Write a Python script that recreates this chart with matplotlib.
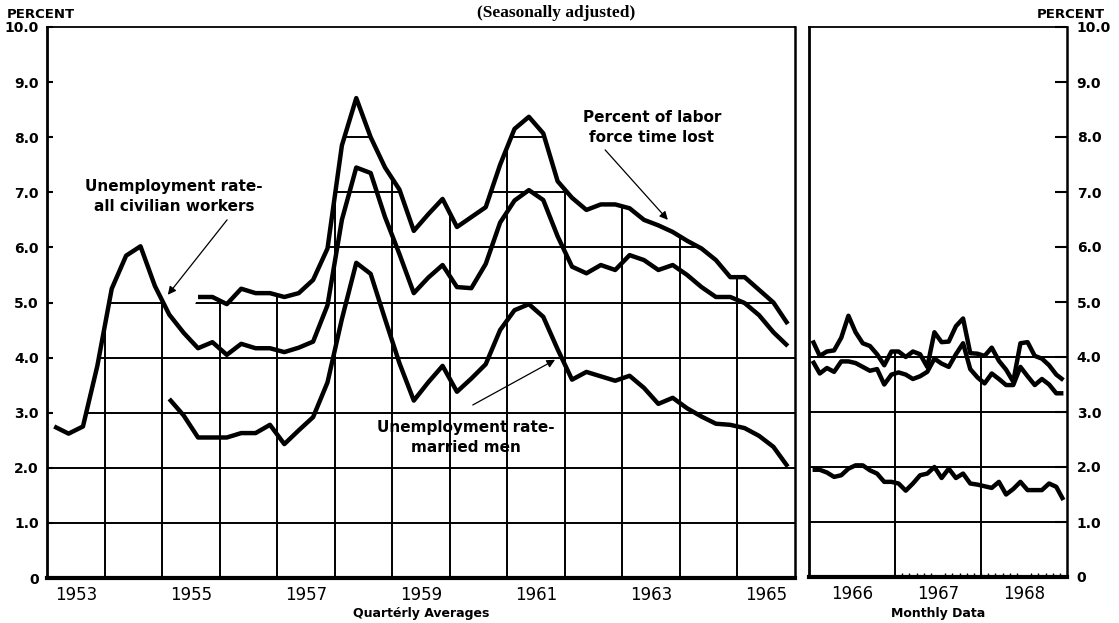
import matplotlib.pyplot as plt
import numpy as np
from matplotlib.patches import Polygon

# Quarterly averages, 1953 Q1 - 1965 Q4
civ_q = [2.75, 2.62, 2.75, 3.85,
         5.25, 5.85, 6.02, 5.3,
         4.78, 4.45, 4.17, 4.28,
         4.05, 4.25, 4.17, 4.17,
         4.1, 4.18, 4.29, 4.95,
         6.5, 7.45, 7.35, 6.55,
         5.88, 5.17, 5.45, 5.68,
         5.28, 5.26, 5.7, 6.45,
         6.85, 7.04, 6.86, 6.2,
         5.65, 5.53, 5.68, 5.59,
         5.86, 5.77, 5.59, 5.68,
         5.5, 5.28, 5.1, 5.1,
         4.99, 4.77, 4.46, 4.21]
# time lost starts 1955 Q3
tl_q = [5.1, 5.1,
        4.97, 5.25, 5.17, 5.17,
        5.1, 5.17, 5.41, 5.98,
        7.85, 8.71, 8.0, 7.45,
        7.05, 6.3, 6.6, 6.88,
        6.37, 6.55, 6.73, 7.5,
        8.15, 8.37, 8.07, 7.2,
        6.9, 6.68, 6.78, 6.78,
        6.71, 6.5, 6.4, 6.28,
        6.12, 5.98, 5.77, 5.46,
        5.46, 5.23, 5.0, 4.61]
# married men starts 1955 Q1
mm_q = [3.25, 2.95, 2.55, 2.55,
        2.55, 2.63, 2.63, 2.78,
        2.43, 2.68, 2.92, 3.55,
        4.7, 5.72, 5.52, 4.7,
        3.9, 3.22, 3.55, 3.85,
        3.38, 3.62, 3.88, 4.5,
        4.86, 4.97, 4.74, 4.15,
        3.6, 3.74, 3.66, 3.58,
        3.67, 3.45, 3.16, 3.27,
        3.08, 2.93, 2.8, 2.78,
        2.72, 2.58, 2.38, 2.02]

# Monthly data, Jan 1966 - Dec 1968
tl_m = [4.3, 4.02, 4.1, 4.12, 4.35, 4.75, 4.45, 4.25, 4.2, 4.05, 3.85, 4.1,
        4.1, 4.0, 4.1, 4.05, 3.82, 4.45, 4.27, 4.28, 4.56, 4.7, 4.07, 4.06,
        4.02, 4.17, 3.93, 3.77, 3.55, 4.25, 4.27, 4.02, 3.97, 3.85, 3.68, 3.58]
civ_m = [3.93, 3.7, 3.8, 3.73, 3.92, 3.92, 3.89, 3.82, 3.75, 3.78, 3.5, 3.68,
         3.72, 3.68, 3.6, 3.65, 3.73, 3.97, 3.88, 3.82, 4.05, 4.25, 3.78, 3.63,
         3.52, 3.7, 3.6, 3.49, 3.49, 3.82, 3.65, 3.49, 3.6, 3.5, 3.34, 3.34]
mm_m = [1.95, 1.95, 1.9, 1.82, 1.85, 1.97, 2.03, 2.03, 1.94, 1.88, 1.73, 1.73,
        1.7, 1.57, 1.7, 1.85, 1.88, 2.0, 1.8, 1.97, 1.8, 1.88, 1.7, 1.68,
        1.65, 1.62, 1.73, 1.5, 1.6, 1.73, 1.58, 1.58, 1.58, 1.7, 1.64, 1.4]

years_q = ['1953', '1955', '1957', '1959', '1961', '1963', '1965']
years_m = ['1966', '1967', '1968']
ylabels = ['0', '1.0', '2.0', '3.0', '4.0', '5.0', '6.0', '7.0', '8.0', '9.0', '10.0']

W, H = 1119, 623
fig = plt.figure(figsize=(W / 100, H / 100), dpi=100)
axL = fig.add_axes([47 / W, 45 / H, 748 / W, 551 / H])
axR = fig.add_axes([809 / W, 46 / H, 258 / W, 550 / H])

LW = 3.2
line_kw = dict(color='black', lw=LW, solid_joinstyle='round', solid_capstyle='butt', zorder=3)

# quarter positions (in years from 1953)
nq = len(civ_q)
xq = np.arange(nq) / 4 + 0.125
tl_full = np.full(nq, np.nan)
tl_full[nq - len(tl_q):] = tl_q
mm_full = np.full(nq, np.nan)
mm_full[nq - len(mm_q):] = mm_q

axL.plot(xq, civ_q, **line_kw)
axL.plot(xq, tl_full, **line_kw)
axL.plot(xq, mm_full, **line_kw)

xm = np.arange(len(tl_m)) + 0.5
axR.plot(xm, tl_m, **line_kw)
axR.plot(xm, civ_m, **line_kw)
axR.plot(xm, mm_m, **line_kw)


def clipped_grid(ax, xs, env, xmax, vx):
    # grid only shows below the highest curve
    px = np.concatenate([[0], xs, [xmax]])
    py = np.concatenate([[env[0]], env, [env[-1]]])
    verts = list(zip(px, py)) + [(xmax, 0), (0, 0)]
    poly = Polygon(verts, closed=True, fill=False, lw=0, visible=False)
    ax.add_patch(poly)
    v = ax.vlines(vx, 0, 10, color='black', lw=1.4, zorder=1)
    h = ax.hlines(np.arange(1, 10), 0, xmax, color='black', lw=1.4, zorder=1)
    v.set_clip_path(poly)
    h.set_clip_path(poly)


envL = np.nanmax(np.vstack([civ_q, tl_full, mm_full]), axis=0)
clipped_grid(axL, xq, envL, 13, np.arange(1, 13))
envR = np.maximum(np.max(np.vstack([tl_m, civ_m, mm_m]), axis=0), 4.05)
clipped_grid(axR, xm, envR, 36, [12, 24])

for ax, xmax in ((axL, 13), (axR, 36)):
    ax.set_xlim(0, xmax)
    ax.set_ylim(0, 10)
    ax.set_yticks(range(11))
    ax.spines['bottom'].set_linewidth(3)
    ax.spines['top'].set_linewidth(1.3)
    ax.spines['left'].set_linewidth(2)
    ax.spines['right'].set_linewidth(1.8)

axL.set_yticklabels(ylabels, fontsize=10, fontweight='bold')
axL.tick_params(axis='y', direction='in', length=4, width=1.5, pad=6)
axL.set_xticks(np.arange(0.5, 13, 2))
axL.set_xticklabels(years_q, fontsize=12)
axL.tick_params(axis='x', length=0, pad=6)

axR.yaxis.tick_right()
axR.set_yticklabels(ylabels, fontsize=10, fontweight='bold')
axR.tick_params(axis='y', direction='in', length=9, width=1.5, pad=7)
axR.set_xticks([6, 18, 30])
axR.set_xticklabels(years_m, fontsize=12)
axR.tick_params(axis='x', which='major', length=0, pad=6)
axR.set_xticks(np.arange(13, 36), minor=True)
axR.tick_params(axis='x', which='minor', direction='in', length=3, width=1)

fig.text(421 / W, 1 - 613 / H, 'Quartérly Averages', ha='center', va='center', fontsize=9, fontweight='bold')
fig.text(938 / W, 1 - 613 / H, 'Monthly Data', ha='center', va='center', fontsize=9, fontweight='bold')
fig.text(7 / W, 1 - 14 / H, 'PERCENT', ha='left', va='center', fontsize=9.5, fontweight='bold')
fig.text(1105 / W, 1 - 14 / H, 'PERCENT', ha='right', va='center', fontsize=9.5, fontweight='bold')
fig.text(556 / W, 1 - 17 / H, '(Seasonally adjusted)', ha='center', va='baseline',
         family='Liberation Serif', fontweight='bold', fontsize=12.5)

txt_kw = dict(ha='center', va='center', fontsize=11, fontweight='bold', linespacing=1.45)
arr_kw = dict(arrowstyle='-|>', color='black', lw=0.9, mutation_scale=12, shrinkA=0, shrinkB=0)

axL.text(2.21, 6.92, 'Unemployment rate-\nall civilian workers', **txt_kw)
axL.annotate('', xy=(2.10, 5.14), xytext=(3.13, 6.5), arrowprops=arr_kw)

axL.text(10.51, 8.18, 'Percent of labor\nforce time lost', **txt_kw)
axL.annotate('', xy=(10.79, 6.5), xytext=(9.70, 7.77), arrowprops=arr_kw)

axL.text(7.28, 2.55, 'Unemployment rate-\nmarried men', **txt_kw)
axL.annotate('', xy=(8.83, 3.96), xytext=(7.40, 3.14), arrowprops=arr_kw)

fig.savefig('out.png', dpi=100)
